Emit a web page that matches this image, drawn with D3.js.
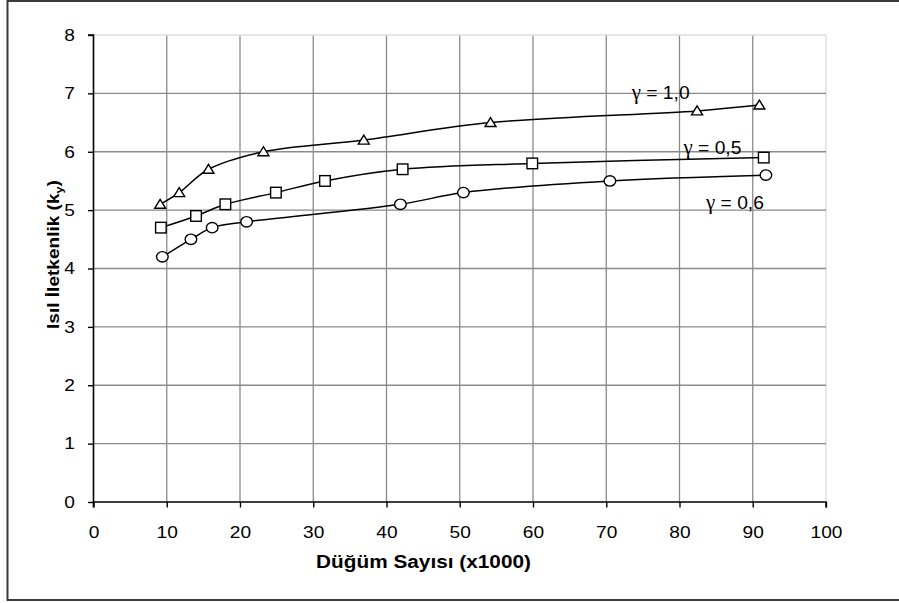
<!DOCTYPE html>
<html>
<head>
<meta charset="utf-8">
<script src="https://cdn.jsdelivr.net/npm/d3@7/dist/d3.min.js"></script>
<style>
  html, body { margin: 0; padding: 0; background: #fff; }
  svg { display: block; }
  text { font-family: Arial, "Liberation Sans", sans-serif; fill: #000; }
</style>
</head>
<body>
<svg id="chart" width="899" height="603"></svg>
<script>
// Node count (x1000) and thermal conductivity k_y for three gamma values
const seriesSymbol = "γ";
const seriesValues = ["= 1,0", "= 0,5", "= 0,6"];
const markerKinds = ["triangle", "square", "circle"];

const nodesG10 = [9.1, 11.7, 15.7, 23.2, 36.9, 54.2, 82.4, 90.9];
const kyG10    = [5.1, 5.3, 5.7, 6.0, 6.2, 6.5, 6.7, 6.8];

const nodesG05 = [9.2, 14.0, 18.0, 24.9, 31.6, 42.2, 59.9, 91.5];
const kyG05    = [4.7, 4.9, 5.1, 5.3, 5.5, 5.7, 5.8, 5.9];

const nodesG06 = [9.4, 13.3, 16.2, 20.9, 41.9, 50.5, 70.5, 91.8];
const kyG06    = [4.2, 4.5, 4.7, 4.8, 5.1, 5.3, 5.5, 5.6];

const xTicks = [0, 10, 20, 30, 40, 50, 60, 70, 80, 90, 100];
const yTicks = [0, 1, 2, 3, 4, 5, 6, 7, 8];

const xTitle = "Düğüm Sayısı (x1000)";
const yTitleMain = "Isıl İletkenlik (k";
const yTitleSub = "y";
const yTitleEnd = ")";

const series = [
  { value: seriesValues[0], marker: markerKinds[0], x: nodesG10, y: kyG10, label: [631.7, 99] },
  { value: seriesValues[1], marker: markerKinds[1], x: nodesG05, y: kyG05, label: [683.5, 154] },
  { value: seriesValues[2], marker: markerKinds[2], x: nodesG06, y: kyG06, label: [706, 208.5] }
];

const svg = d3.select("#chart");
const plot = { left: 93.5, right: 826, top: 35, bottom: 502 };

const x = d3.scaleLinear().domain([0, 100]).range([plot.left, plot.right]);
const y = d3.scaleLinear().domain([0, 8]).range([plot.bottom, plot.top]);

const STRETCH = 1.16;

// outer frame (top, left, bottom)
svg.append("path")
  .attr("d", "M899,1 H7.5 V600 H899")
  .attr("fill", "none")
  .attr("stroke", "#3a3a3a")
  .attr("stroke-width", 2);

// gridlines
const grid = svg.append("g");
grid.selectAll("line.v").data(xTicks.filter(d => d > 0)).join("line")
  .attr("x1", d => x(d)).attr("x2", d => x(d))
  .attr("y1", y(0)).attr("y2", y(8))
  .attr("stroke", d => d === 100 ? "#dcdcdc" : "#8a8a8a")
  .attr("stroke-width", 1.3);
grid.selectAll("line.h").data(yTicks.filter(d => d > 0)).join("line")
  .attr("x1", x(0)).attr("x2", x(100))
  .attr("y1", d => y(d)).attr("y2", d => y(d))
  .attr("stroke", d => d === 8 ? "#dcdcdc" : "#8a8a8a")
  .attr("stroke-width", 1.3);

// axes
const xAxis = svg.append("g")
  .attr("transform", `translate(0,${plot.bottom})`)
  .call(d3.axisBottom(x).tickValues(xTicks).tickSize(5.5).tickPadding(19).tickFormat(d3.format("d")));
const yAxis = svg.append("g")
  .attr("transform", `translate(${plot.left},0)`)
  .call(d3.axisLeft(y).tickValues(yTicks).tickSize(5.5).tickPadding(13).tickFormat(d3.format("d")));

[xAxis, yAxis].forEach(g => {
  g.select(".domain").attr("stroke", "#000").attr("stroke-width", 1.6);
  g.selectAll(".tick line").attr("stroke", "#000").attr("stroke-width", 1.4);
  g.selectAll(".tick text").attr("font-size", 16.5).attr("font-family", "Arial, 'Liberation Sans', sans-serif").attr("fill", "#000");
});
xAxis.select(".domain").attr("d", `M${x(0)},0V5.5M${x(0)},0H${x(100)}V5.5`);
yAxis.select(".domain").attr("d", `M-5.5,${y(8)}H0V${y(0)}`);

// widen tick labels along their baseline
xAxis.selectAll(".tick text").attr("transform", `scale(${STRETCH},1)`);
yAxis.selectAll(".tick text").each(function () {
  const t = d3.select(this);
  const xx = +t.attr("x");
  t.attr("x", 0).attr("transform", `translate(${xx},0) scale(${STRETCH},1)`);
});

// smoothed series lines
const line = d3.line().x(d => x(d[0])).y(d => y(d[1])).curve(d3.curveCatmullRom.alpha(0.5));
const lines = svg.append("g");
series.forEach(s => {
  const pts = s.x.map((v, i) => [v, s.y[i]]);
  lines.append("path")
    .attr("d", line(pts))
    .attr("fill", "none")
    .attr("stroke", "#000")
    .attr("stroke-width", 1.5);
});

// markers
const marks = svg.append("g");
series.forEach(s => {
  const pts = s.x.map((v, i) => [v, s.y[i]]);
  const g = marks.append("g");
  pts.forEach(p => {
    const cx = x(p[0]), cy = y(p[1]);
    let m;
    if (s.marker === "triangle") {
      m = g.append("path").attr("d", `M${cx},${cy - 5} L${cx + 5.5},${cy + 4} L${cx - 5.5},${cy + 4} Z`);
    } else if (s.marker === "square") {
      m = g.append("rect").attr("x", cx - 5.3).attr("y", cy - 5.3).attr("width", 10.6).attr("height", 10.6);
    } else {
      m = g.append("ellipse").attr("cx", cx).attr("cy", cy).attr("rx", 5.8).attr("ry", 5.2);
    }
    m.attr("fill", "#fff").attr("stroke", "#000").attr("stroke-width", 1.4);
  });
});

// series labels (gamma set in a serif face)
series.forEach(s => {
  const g = svg.append("g").attr("transform", `translate(${s.label[0]},${s.label[1]})`);
  const t = g.append("text").attr("x", 0).attr("y", 0).attr("font-size", 18.5)
    .attr("font-family", "'Noto Sans', 'Open Sans', sans-serif");
  t.append("tspan").attr("font-family", "'Liberation Serif', 'DejaVu Serif', serif").attr("font-size", 20).text(seriesSymbol);
  t.append("tspan").text(" " + s.value);
  const w = t.node().getBBox().width;
  t.attr("transform", `scale(${59 / w},1)`);
});

// x axis title
{
  const g = svg.append("g").attr("transform", "translate(423.5,568)");
  const t = g.append("text").attr("text-anchor", "middle")
    .attr("font-size", 17.5).attr("font-weight", "bold").text(xTitle);
  const w = t.node().getComputedTextLength();
  t.attr("transform", `scale(${215 / w},1)`);
}

// y axis title
{
  const g = svg.append("g").attr("transform", "translate(58.5,254.5) rotate(-90)");
  const t = g.append("text").attr("text-anchor", "middle")
    .attr("font-size", 16.5).attr("font-weight", "bold");
  t.append("tspan").text(yTitleMain);
  t.append("tspan").attr("font-size", 11).attr("dy", 4).text(yTitleSub);
  t.append("tspan").attr("dy", -4).text(yTitleEnd);
  const w = t.node().getBBox().width;
  t.attr("transform", `scale(${149 / w},1)`);
}
</script>
</body>
</html>
